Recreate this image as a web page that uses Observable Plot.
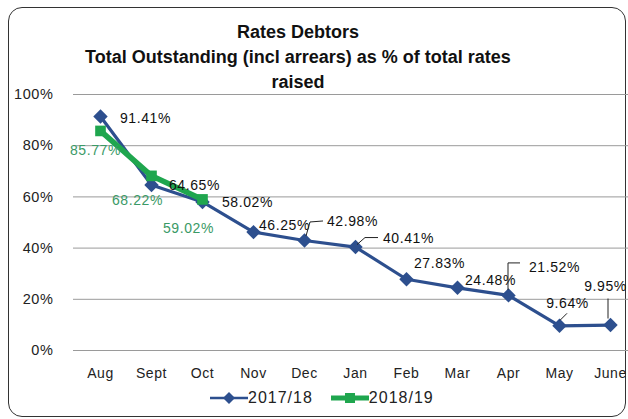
<!DOCTYPE html>
<html><head><meta charset="utf-8">
<script src="https://cdn.jsdelivr.net/npm/d3@7"></script>
<script src="https://cdn.jsdelivr.net/npm/@observablehq/plot@0.6"></script>
<style>
body{margin:0;background:#fff;}
#wrap{position:relative;width:628px;height:419px;overflow:hidden;font-family:"Liberation Sans",Arial,sans-serif;background:#fff;}
#frame{position:absolute;left:8px;top:7px;width:616px;height:408px;border:1.5px solid #333;border-radius:14px;}
#title{position:absolute;left:0;top:20px;width:596px;text-align:center;font-weight:bold;font-size:18px;line-height:25px;color:#111;}
#chart{position:absolute;left:0;top:0;}
#legend{position:absolute;top:389px;left:210px;font-size:16px;color:#222;display:flex;align-items:center;white-space:nowrap;letter-spacing:1px;}
#legend .item{display:flex;align-items:center;margin-right:18px;}
</style>
</head><body>
<div id="wrap">
  <div id="frame"></div>
  <div id="chart"></div>
  <div id="title">Rates Debtors<br>Total Outstanding (incl arrears) as % of total rates<br>raised</div>
  <div id="legend"></div>
</div>
<script>
const months = ["Aug","Sept","Oct","Nov","Dec","Jan","Feb","Mar","Apr","May","June"];
const series2017 = [91.41, 64.65, 58.02, 46.25, 42.98, 40.41, 27.83, 24.48, 21.52, 9.64, 9.95];
const series2018 = [85.77, 68.22, 59.02];
const seriesNames = ["2017/18", "2018/19"];
const yTicks = [0, 20, 40, 60, 80, 100];

// label placement (pixel offsets from each point)
const offsets2017 = [[45,2],[43,1],[45,1],[31,-7],[48,-19],[53,-9],[33,-16],[33,-7],[46,-28],[8,-22],[-5,-39]];
const offsets2018 = [[-5,20],[-14,25],[-14,29]];
// leader lines: index -> list of pixel offsets from point
const leaders2017 = {4:[[2,-4],[6,-18],[19,-19]], 5:[[2,-2],[10,-9],[23,-9]], 8:[[0,-5],[0,-32],[12,-32]], 9:[[1,-5],[8,-12]], 10:[[-2,-6],[-2,-26]]};

const blue = "#2d4f8e", green = "#1fa64e", greenText = "#3a9a66";

const d17 = months.map((m,i)=>({month:m, value:series2017[i], i}));
const d18 = series2018.map((v,i)=>({month:months[i], value:v, i}));
const fmt = v => v.toFixed(2) + "%";

const labelMarks = [];
d17.forEach((d,i)=>labelMarks.push(Plot.text([d], {x:"month", y:"value", text:d=>fmt(d.value), dx:offsets2017[i][0], dy:offsets2017[i][1], fill:"#111", fontSize:14, textAnchor:"middle"})));
d18.forEach((d,i)=>labelMarks.push(Plot.text([d], {x:"month", y:"value", text:d=>fmt(d.value), dx:offsets2018[i][0], dy:offsets2018[i][1], fill:greenText, fontSize:14, textAnchor:"middle"})));

const plot = Plot.plot({
  width: 628, height: 400,
  marginTop: 94, marginBottom: 50, marginLeft: 73, marginRight: 0,
  style: {fontFamily: '"Liberation Sans", Arial, sans-serif', background: "transparent", letterSpacing: "0.6px", color:"#222"},
  x: {type: "point", domain: months, range: [97, 612], padding: 0},
  y: {domain: [0, 100]},
  marks: [
    Plot.ruleY(yTicks, {stroke: "#9a9a9a", strokeWidth: 1}),
    Plot.axisY(yTicks, {tickSize: 0, tickPadding: 20, tickFormat: d => d + "%", fontSize: 14.5, label: null}),
    Plot.axisX({tickSize: 0, tickPadding: 18, fontSize: 14, label: null}),
    Plot.line(d17, {x: "month", y: "value", stroke: blue, strokeWidth: 3.2}),
    Plot.dot(d17, {x: "month", y: "value", symbol: "diamond2", r: 6.5, fill: blue, stroke: "none"}),
    Plot.line(d18, {x: "month", y: "value", stroke: green, strokeWidth: 5.5}),
    Plot.dot(d18, {x: "month", y: "value", symbol: "square", r: 6, fill: green, stroke: "none"}),
    ...labelMarks
  ]
});
document.getElementById("chart").appendChild(plot);

// leader lines via the plot's own scales
const sx = plot.scale("x"), sy = plot.scale("y");
const svg = d3.select(plot);
Object.entries(leaders2017).forEach(([k, pts]) => {
  const d = d17[+k];
  const px = sx.apply(d.month), py = sy.apply(d.value);
  svg.append("path")
    .attr("d", d3.line()(pts.map(([ox,oy]) => [px+ox, py+oy])))
    .attr("fill", "none").attr("stroke", "#222").attr("stroke-width", 1);
});

// legend
const legend = d3.select("#legend");
[[seriesNames[0], blue, "diamond"], [seriesNames[1], green, "square"]].forEach(([name, col, shape]) => {
  const item = legend.append("div").attr("class", "item");
  const s = item.append("svg").attr("width", 38).attr("height", 14);
  s.append("line").attr("x1", 0).attr("x2", 38).attr("y1", 7).attr("y2", 7).attr("stroke", col).attr("stroke-width", shape === "square" ? 5 : 2.5);
  if (shape === "square") s.append("rect").attr("x", 14).attr("y", 2).attr("width", 10).attr("height", 10).attr("fill", col);
  else s.append("path").attr("d", "M19,1L25,7L19,13L13,7Z").attr("fill", col);
  item.append("span").text(name);
});
</script>
</body></html>
